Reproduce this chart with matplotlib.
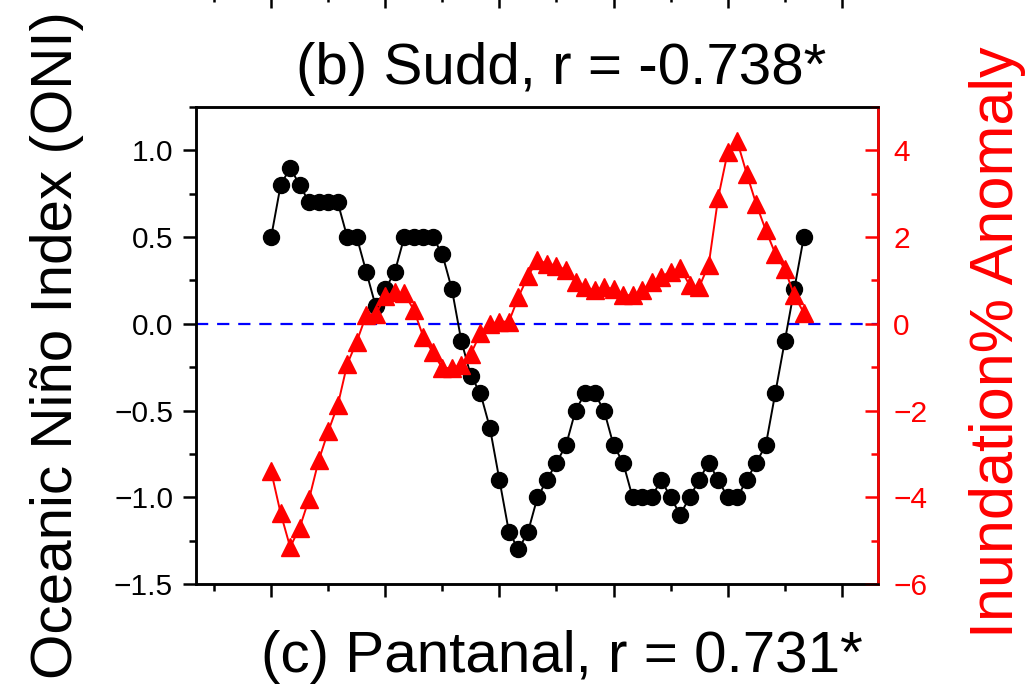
import matplotlib
matplotlib.use("Agg")
import matplotlib.pyplot as plt
from matplotlib.ticker import MultipleLocator

plt.rcParams['font.family'] = ['Liberation Sans', 'DejaVu Sans']

# monthly series, 57 months
months = list(range(57))
oni = [0.5, 0.8, 0.9, 0.8, 0.7, 0.7, 0.7, 0.7, 0.5, 0.5,
       0.3, 0.1, 0.2, 0.3, 0.5, 0.5, 0.5, 0.5, 0.4, 0.2,
       -0.1, -0.3, -0.4, -0.6, -0.9, -1.2, -1.3, -1.2, -1.0, -0.9,
       -0.8, -0.7, -0.5, -0.4, -0.4, -0.5, -0.7, -0.8, -1.0, -1.0,
       -1.0, -0.9, -1.0, -1.1, -1.0, -0.9, -0.8, -0.9, -1.0, -1.0,
       -0.9, -0.8, -0.7, -0.4, -0.1, 0.2, 0.5]
inund = [-3.4, -4.37, -5.15, -4.7, -4.03, -3.15, -2.48, -1.88, -0.93, -0.41,
         0.2, 0.22, 0.64, 0.73, 0.7, 0.32, -0.3, -0.66, -1.02, -1.02,
         -0.95, -0.69, -0.22, 0.0, 0.05, 0.05, 0.62, 1.1, 1.47, 1.39,
         1.34, 1.24, 0.97, 0.85, 0.77, 0.85, 0.8, 0.66, 0.66, 0.77,
         0.97, 1.09, 1.2, 1.28, 0.89, 0.85, 1.36, 2.91, 3.96, 4.21,
         3.46, 2.76, 2.16, 1.62, 1.26, 0.66, 0.25]

title_b = "(b) Sudd, r = -0.738*"
title_c = "(c) Pantanal, r = 0.731*"
W, H = 1028, 686

fig = plt.figure(figsize=(W / 100, H / 100), dpi=100)
ax = fig.add_axes([196 / W, 1 - 584 / H, (878 - 196) / W, (584 - 107) / H])
ax2 = ax.twinx()

ax.axhline(0, color='#0000ff', lw=1.6, dashes=(5.5, 4), zorder=1)
ax.plot(months, oni, color='black', lw=1.4, marker='o', ms=11.5, zorder=3)
ax2.plot(months, inund, color='red', lw=1.4, marker='^', ms=13, zorder=3)

ax.set_xlim(-7.9, 63.8)
ax.set_ylim(-1.5, 1.25)
ax2.set_ylim(-6, 5)

ax.xaxis.set_major_locator(MultipleLocator(12))
ax.xaxis.set_minor_locator(MultipleLocator(6))
ax.set_xticklabels([])
ax.yaxis.set_major_locator(MultipleLocator(0.5))
ax.yaxis.set_minor_locator(MultipleLocator(0.25))
ax.set_yticks([-1.5, -1.0, -0.5, 0.0, 0.5, 1.0])
ax2.set_yticks([-6, -4, -2, 0, 2, 4])
ax2.yaxis.set_minor_locator(MultipleLocator(1))

for a in (ax, ax2):
    for s in a.spines.values():
        s.set_linewidth(1.8)
ax2.spines['right'].set_color('red')

ax.tick_params(axis='both', which='major', direction='out', length=9.5, width=1.8,
               labelsize=21.5, pad=7, right=False)
ax.tick_params(axis='both', which='minor', direction='out', length=5, width=1.8, right=False)
ax2.tick_params(axis='y', which='major', direction='in', length=9.5, width=1.8,
                colors='red', labelsize=21.5, pad=11)
ax2.tick_params(axis='y', which='minor', direction='in', length=5, width=1.8, colors='red')

# axis labels
fig.text(72 / W, 1 - 345 / H, "Oceanic Niño Index (ONI)", rotation=90,
         rotation_mode='anchor', ha='center', va='baseline', fontsize=42)
fig.text(1013 / W, 1 - 342 / H, "Inundation% Anomaly", rotation=90, color='red',
         rotation_mode='anchor', ha='center', va='baseline', fontsize=44)

# panel titles
fig.text(561 / W, 1 - 84 / H, title_b, ha='center', va='baseline', fontsize=42)
fig.text(562 / W, 1 - 672 / H, title_c, ha='center', va='baseline', fontsize=42)

# bottom axis of the panel above, just peeking in
top = fig.add_axes([196 / W, 1 + 5 / H, (878 - 196) / W, 0.1])
top.set_xlim(ax.get_xlim())
top.xaxis.set_major_locator(MultipleLocator(12))
top.xaxis.set_minor_locator(MultipleLocator(6))
top.set_xticklabels([])
top.set_yticks([])
for k in ('top', 'left', 'right'):
    top.spines[k].set_visible(False)
top.tick_params(axis='x', which='major', direction='out', length=9.5, width=1.8)
top.tick_params(axis='x', which='minor', direction='out', length=5, width=1.8)

fig.savefig("out.png", dpi=100)
